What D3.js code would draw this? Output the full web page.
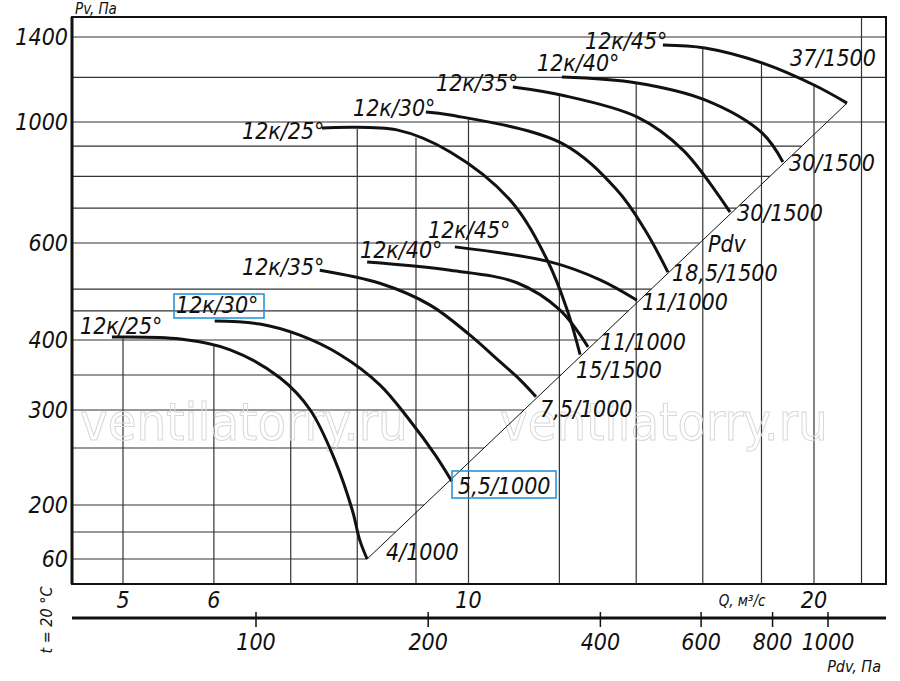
<!DOCTYPE html>
<html><head><meta charset="utf-8">
<script src="https://cdn.jsdelivr.net/npm/d3@7"></script>
<style>
body{margin:0;background:#fff}
text{font-family:"DejaVu Sans Condensed","DejaVu Sans",sans-serif;font-stretch:condensed;font-style:italic;fill:#111}
</style></head><body>
<svg id="c" width="900" height="681"></svg>
<script>
// Q, м3/с (x) and Pv, Па (y) tick values
var qTicks = [5, 6, 10, 20];
var qGrid = [5, 6, 7, 8, 9, 10, 12, 14, 16, 18, 20, 22];
var pvTicks = [60, 200, 300, 400, 600, 1000, 1400];
var pvGrid = [60, 130, 200, 260, 300, 350, 400, 460, 505, 600, 715, 820, 920, 1000, 1210, 1400];
var pdvTicks = [100, 200, 400, 600, 800, 1000];

// curves: [Q, Pv]
var c25a = [[4.89,406],[5.61,402],[6.20,386],[6.85,346],[7.28,300],[7.65,247],[7.92,187],[8.04,109],[8.16,60]];
var c30a = [[6.01,439],[6.58,433],[7.13,410],[7.73,379],[8.37,336],[8.89,289],[9.35,253],[9.67,225]];
var c35a = [[7.42,544],[8.37,517],[9.26,472],[10.03,410],[10.65,369],[11.09,343],[11.45,319]];
var c40a = [[8.16,561],[9.64,544],[11.02,518],[12.01,462],[12.71,390]];
var c45a = [[9.73,592],[11.78,561],[13.02,524],[14.02,482]];
var c25b = [[7.45,980],[8.66,974],[9.64,901],[10.87,742],[11.71,565],[12.19,462],[12.51,379]];
var c30b = [[9.18,1047],[9.64,1033],[12.04,931],[13.47,775],[14.25,643],[14.92,540]];
var c35b = [[10.93,1165],[12.04,1127],[14.02,1024],[15.38,907],[16.90,702]];
var c40b = [[12.06,1212],[14.02,1184],[16.07,1104],[18.02,964],[18.79,868]];
var c45b = [[14.77,1362],[16.07,1348],[18.02,1278],[20.0,1174],[21.37,1089]];
var curves = [c25a, c30a, c35a, c40a, c45a, c25b, c30b, c35b, c40b, c45b];
var pdvLine = [[8.16,60],[21.37,1089]];

var startLabels = ['12к/25°','12к/30°','12к/35°','12к/40°','12к/45°','12к/25°','12к/30°','12к/35°','12к/40°','12к/45°'];
var endLabels = ['4/1000','5,5/1000','7,5/1000','11/1000','11/1000','15/1500','18,5/1500','30/1500','30/1500','37/1500'];

var svg = d3.select('#c');
var L = 72, R = 886, T = 17, B = 584;
var x = d3.scaleLog().domain([5, 20]).range([123, 814]);
var y = d3.scaleLinear().domain(pvTicks).range([559, 505, 410, 340, 243, 122, 37]);
var xp = d3.scaleLog().domain([100, 1000]).range([256, 828]);

var p0 = [x(pdvLine[0][0]), y(pdvLine[0][1])], p1 = [x(pdvLine[1][0]), y(pdvLine[1][1])];
function diagX(py) { return p0[0] + (py - p0[1]) * (p1[0] - p0[0]) / (p1[1] - p0[1]); }

// envelope of curves at pixel px (min y)
function topAt(px) {
  var best = null;
  curves.forEach(function(c) {
    for (var i = 0; i < c.length - 1; i++) {
      var xa = x(c[i][0]), xb = x(c[i+1][0]);
      if (px >= xa && px <= xb) {
        var t = (px - xa) / (xb - xa);
        var yy = y(c[i][1]) + t * (y(c[i+1][1]) - y(c[i][1]));
        if (best === null || yy < best) best = yy;
      }
    }
  });
  return best === null ? T : best;
}

var g = svg.append('g');
pvGrid.forEach(function(v) {
  var py = y(v);
  var xe = py > 130 ? diagX(py) : R;
  g.append('line').attr('x1', L).attr('x2', xe).attr('y1', py).attr('y2', py)
    .attr('stroke', '#333').attr('stroke-width', 1.2);
});
qGrid.forEach(function(v) {
  var px = x(v);
  g.append('line').attr('x1', px).attr('x2', px).attr('y1', B).attr('y2', topAt(px))
    .attr('stroke', '#333').attr('stroke-width', 1.2);
});

// watermark
[80, 500].forEach(function(wx) {
  svg.append('text').attr('x', wx).attr('y', 440).text('ventilatorry.ru')
    .style('font-style', 'normal').style('font-size', '52px')
    .style('fill', 'none').style('stroke', '#d8d8d8').style('stroke-width', 1);
});

svg.append('line').attr('x1', p0[0]).attr('y1', p0[1]).attr('x2', p1[0]).attr('y2', p1[1])
  .attr('stroke', '#111').attr('stroke-width', 1);

var line = d3.line().x(function(d){ return x(d[0]); }).y(function(d){ return y(d[1]); }).curve(d3.curveCatmullRom);
curves.forEach(function(c) {
  svg.append('path').attr('d', line(c)).attr('fill', 'none').attr('stroke', '#111').attr('stroke-width', 3);
});

// frame
svg.append('rect').attr('x', L).attr('y', T).attr('width', R - L).attr('height', B - T)
  .attr('fill', 'none').attr('stroke', '#111').attr('stroke-width', 2);
svg.append('line').attr('x1', L).attr('x2', L).attr('y1', T).attr('y2', B).attr('stroke', '#111').attr('stroke-width', 3);

function txt(tx, ty, s, size, anchor) {
  return svg.append('text').attr('x', tx).attr('y', ty).text(s)
    .style('font-size', (size || 22) + 'px').attr('text-anchor', anchor || 'start');
}
pvTicks.forEach(function(v) { txt(68, y(v) + 8, v, 23, 'end'); });
txt(75, 14, 'Pv, Па', 15);

// curve labels
var startPos = [[80,334],[176,313],[242,275],[360,258],[428,238],[242,139],[353,116],[436,91],[537,71],[585,49]];
var endPos = [[386,560],[458,494],[540,417],[600,350],[642,310],[576,378],[672,281],[737,221],[789,171],[790,66]];
startLabels.forEach(function(s, i) { txt(startPos[i][0], startPos[i][1], s, 23); });
endLabels.forEach(function(s, i) { txt(endPos[i][0], endPos[i][1], s, 23); });
txt(708, 252, 'Pdv', 23);
// highlight boxes
svg.append('rect').attr('x', 174).attr('y', 294).attr('width', 90).attr('height', 24)
  .attr('fill', 'none').attr('stroke', '#1a8fd6').attr('stroke-width', 1.5);
svg.append('rect').attr('x', 452).attr('y', 471).attr('width', 104).attr('height', 27)
  .attr('fill', 'none').attr('stroke', '#1a8fd6').attr('stroke-width', 1.5);

// bottom Q labels
qTicks.forEach(function(v) { txt(x(v), 608, v, 23, 'middle'); });
txt(742, 606, 'Q, м³/с', 15, 'middle');

// Pdv axis
svg.append('line').attr('x1', L).attr('x2', R).attr('y1', 618).attr('y2', 618).attr('stroke', '#111').attr('stroke-width', 3);
pdvTicks.forEach(function(v) {
  svg.append('line').attr('x1', xp(v)).attr('x2', xp(v)).attr('y1', 612).attr('y2', 627).attr('stroke', '#111').attr('stroke-width', 1.5);
  txt(xp(v), 650, v, 23, 'middle');
});
txt(881, 672, 'Pdv, Па', 16, 'end');
svg.append('text').attr('transform', 'translate(52,620) rotate(-90)').attr('text-anchor', 'middle')
  .style('font-size', '16px').text('t = 20 °C');
</script></body></html>
